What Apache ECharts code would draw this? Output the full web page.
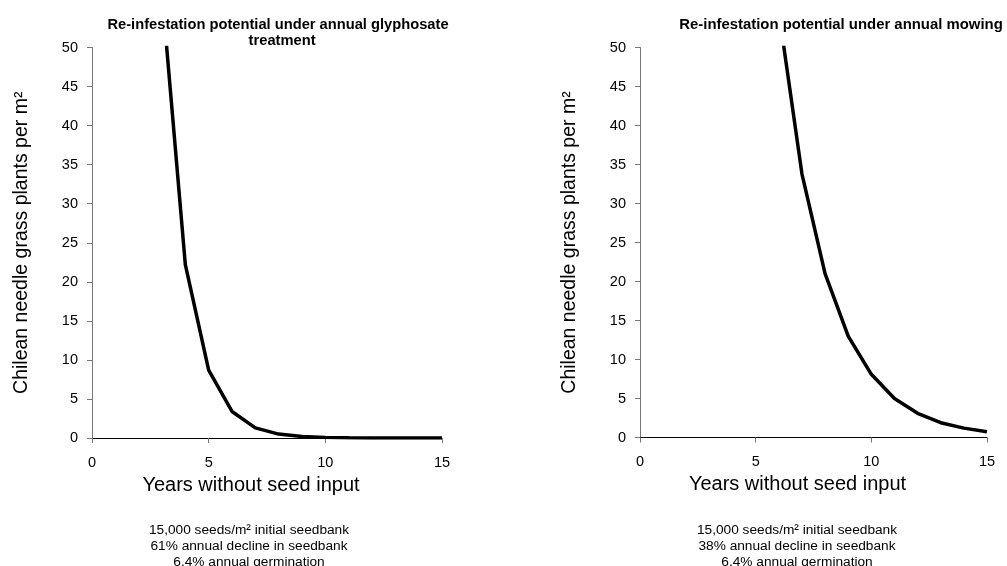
<!DOCTYPE html>
<html>
<head>
<meta charset="utf-8">
<script src="https://cdn.jsdelivr.net/npm/echarts@6/dist/echarts.min.js"></script>
<style>
html,body{margin:0;padding:0;background:#fff;}
#chart{width:1007px;height:566px;}
</style>
</head>
<body>
<div id="chart"></div>
<script>
// Years without seed input (0..15)
var years = [0,1,2,3,4,5,6,7,8,9,10,11,12,13,14,15];
// Plants per m2 under annual glyphosate treatment
var glyphosate = [960, 374, 146, 57, 22.2, 8.7, 3.4, 1.3, 0.5, 0.2, 0.08, 0.03, 0.01, 0.005, 0.002, 0.001];
// Plants per m2 under annual mowing
var mowing = [960, 595, 369, 229, 142, 88, 54.6, 33.8, 21.0, 13.0, 8.1, 5.0, 3.1, 1.9, 1.2, 0.75];
var yTicks = [0,5,10,15,20,25,30,35,40,45,50];
var xTicks = [0,5,10,15];

var titles = [
  'Re-infestation potential under annual glyphosate\n  treatment',
  'Re-infestation potential under annual mowing'
];
var notes = [
  '15,000 seeds/m² initial seedbank\n61% annual decline in seedbank\n6.4% annual germination',
  '15,000 seeds/m² initial seedbank\n38% annual decline in seedbank\n6.4% annual germination'
];
var yName = 'Chilean needle grass plants per m²';
var xName = 'Years without seed input';

var font = 'Arial, "Liberation Sans", sans-serif';

function pairs(vals){ return years.map(function(y,i){ return [y, vals[i]]; }); }

function xAxis(idx){
  return {
    type:'value', gridIndex: idx, min: xTicks[0], max: xTicks[xTicks.length-1], interval: 5,
    axisLine:{show:true, onZero:false, lineStyle:{color:'#000', width:1}},
    axisTick:{show:true, length:5, inside:false, lineStyle:{color:'#777'}},
    axisLabel:{color:'#000', fontSize:14.5, fontFamily:font, margin:17},
    splitLine:{show:false},
    name: xName, nameLocation:'middle', nameGap:37,
    nameTextStyle:{color:'#000', fontSize:20, fontFamily:font, padding:[0,32,0,0]}
  };
}
function yAxis(idx){
  return {
    type:'value', gridIndex: idx, min: yTicks[0], max: yTicks[yTicks.length-1], interval: 5,
    axisLine:{show:true, lineStyle:{color:'#777', width:1}},
    axisTick:{show:true, length:5, inside:false, lineStyle:{color:'#777'}},
    axisLabel:{color:'#000', fontSize:14.5, fontFamily:font, margin:14},
    splitLine:{show:false},
    name: yName, nameLocation:'middle', nameGap:60,
    nameTextStyle:{color:'#000', fontSize:19.5, fontFamily:font}
  };
}

var chart = echarts.init(document.getElementById('chart'));
chart.setOption({
  backgroundColor:'#fff',
  animation:false,
  title:[
    {text:titles[0], left:273, top:12, textAlign:'center',
     textStyle:{fontSize:14.7, fontWeight:'bold', color:'#000', fontFamily:font, lineHeight:16}},
    {text:titles[1], left:836, top:11.5, textAlign:'center',
     textStyle:{fontSize:14.9, fontWeight:'bold', color:'#000', fontFamily:font, lineHeight:16}},
    {text:notes[0], left:244, top:517, textAlign:'center',
     textStyle:{fontSize:13.7, fontWeight:'normal', color:'#000', fontFamily:font, lineHeight:16}},
    {text:notes[1], left:792, top:517, textAlign:'center',
     textStyle:{fontSize:13.7, fontWeight:'normal', color:'#000', fontFamily:font, lineHeight:16}}
  ],
  grid:[
    {left:92, top:47.5, width:350, height:390.5},
    {left:640, top:47.5, width:347, height:390}
  ],
  xAxis:[xAxis(0), xAxis(1)],
  yAxis:[yAxis(0), yAxis(1)],
  series:[
    {type:'line', xAxisIndex:0, yAxisIndex:0, data:pairs(glyphosate), showSymbol:false, symbol:'none',
     clip:true, lineStyle:{color:'#000', width:3.5}},
    {type:'line', xAxisIndex:1, yAxisIndex:1, data:pairs(mowing), showSymbol:false, symbol:'none',
     clip:true, lineStyle:{color:'#000', width:3.5}}
  ]
});
</script>
</body>
</html>
